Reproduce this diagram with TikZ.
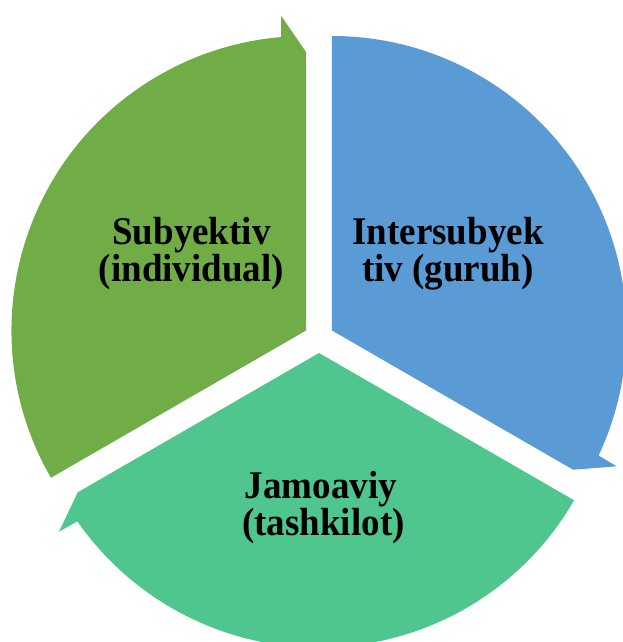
\documentclass[tikz,border=0pt]{standalone}
\usepackage{fontspec}
\usepackage{graphicx}
\setmainfont{Liberation Serif}
\definecolor{segGreen}{RGB}{112,173,71}
\definecolor{segBlue}{RGB}{91,155,213}
\definecolor{segTeal}{RGB}{78,198,142}
\tikzset{
  segment/.style={draw=none},
  lbl/.style={anchor=base, inner sep=0pt, font=\bfseries\fontsize{37}{37}\selectfont, text=black},
}
% one exploded wedge with a half arrowhead at its clockwise end (apex at local origin)
\newcommand{\segpath}{(0,0) -- (210:294.5) arc[start angle=210, end angle=94.87, radius=294.5] -- (94.5:315.5) -- (90:278.5) -- cycle}
\newcommand{\tallt}[1]{\scalebox{1}[1.06]{#1}}
\begin{document}
\begin{tikzpicture}[x=1pt,y=1pt]
\useasboundingbox (-319,-304) rectangle (303,338);
% green segment (top-left)
\begin{scope}[shift={(150:15)}]
\fill[segment, segGreen] \segpath;
\end{scope}
% blue segment (right)
\begin{scope}[rotate=-120, shift={(150:15)}]
\fill[segment, segBlue] \segpath;
\end{scope}
% teal segment (bottom)
\begin{scope}[rotate=120, shift={(150:15)}]
\fill[segment, segTeal] \segpath;
\end{scope}
% labels
\node[lbl] (subj1) at (-127.5,93) {\tallt{Subyektiv}};
\node[lbl] (subj2) at (-127.5,56) {\tallt{(individual)}};
\node[lbl] (inter1) at (129,93) {\tallt{Intersubyek}};
\node[lbl] (inter2) at (129,56) {\tallt{tiv (guruh)}};
\node[lbl] (jam1) at (2,-160) {\tallt{Jamoaviy}};
\node[lbl] (jam2) at (4.5,-197) {\tallt{(tashkilot)}};
\end{tikzpicture}
\end{document}
